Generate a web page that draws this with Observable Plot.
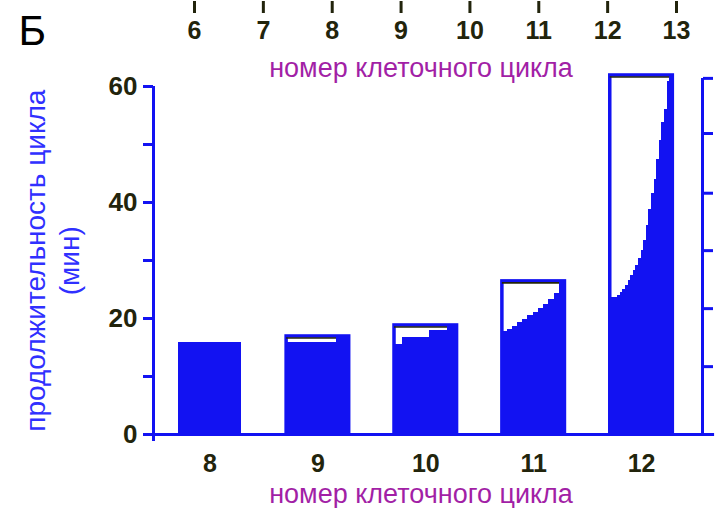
<!DOCTYPE html>
<html><head><meta charset="utf-8">
<script src="https://cdn.jsdelivr.net/npm/d3@7"></script>
<script src="https://cdn.jsdelivr.net/npm/@observablehq/plot@0.6"></script>
<style>
html,body{margin:0;padding:0;background:#fff;}
#wrap{position:relative;width:717px;height:508px;overflow:hidden;background:#fff;}
#wrap svg{position:absolute;left:0;top:0;}
</style></head><body>
<div id="wrap"></div>
<script>
// ---- data ----
const cycles = [8, 9, 10, 11, 12];
const maxDuration = [15.7, 16.9, 18.8, 26.4, 61.9];
const fill8 = [15.7];
const fill9 = [15.7, 15.7, 15.7, 15.7, 16.9];
const fill10 = [15.5, 16.6, 16.6, 16.6, 17.8, 17.8, 18.8];
const fill11 = [17.6, 18.0, 18.6, 19.2, 19.8, 20.4, 21.0, 21.7, 22.4, 23.2, 24.2, 26.4];
const fill12 = [23.6, 23.6, 23.6, 23.9, 24.4, 24.9, 25.6, 26.4, 27.3, 28.2, 29.1, 30.2, 31.7, 33.3, 36.0, 38.7, 41.5, 43.8, 47.4, 50.6, 53.7, 56.0, 60.7, 61.9];
const fills = [fill8, fill9, fill10, fill11, fill12];
const leftTicks = [0, 10, 20, 30, 40, 50, 60];
const leftLabels = [0, 20, 40, 60];
const rightTicks = [0, 11.7, 21.7, 31.7, 41.6, 51.9, 61.4];
const topTicks = [6, 7, 8, 9, 10, 11, 12, 13];
const xTitle = "номер клеточного цикла";
const yTitle = ["продолжительность цикла", "(мин)"];
const panelLetter = "Б";

// ---- styling / layout ----
const BLUE = "#1212f2";
const DARK = "#22240c";
const PURPLE = "#a21fa6";
const YBLUE = "#3030ff";
const FONT = "Liberation Sans, Arial, sans-serif";
const xDomain = [7.476, 12.565];
const baseX1 = 7.448, baseX2 = 12.677;
const halfW = 0.29;

const bars = cycles.map((c, i) => ({c, max: maxDuration[i], minFill: d3.min(fills[i])}));
const cells = [];
cycles.forEach((c, i) => {
  const arr = fills[i], n = arr.length;
  arr.forEach((v, j) => cells.push({
    x1: c - halfW + 2 * halfW * j / n,
    x2: c - halfW + 2 * halfW * (j + 1) / n,
    v
  }));
});

const mainChart = Plot.plot({
  width: 717, height: 508,
  marginLeft: 153, marginRight: 15, marginTop: 74.4, marginBottom: 74,
  x: {domain: xDomain},
  y: {domain: [0, 62]},
  style: {fontFamily: FONT, background: "transparent", overflow: "visible"},
  marks: [
    Plot.rect(bars.filter(d => d.max > d.minFill), {x1: d => d.c - halfW, x2: d => d.c + halfW, y1: 0, y2: "max", fill: "white", stroke: BLUE, strokeWidth: 3.5}),
    Plot.ruleY(bars.filter(d => d.max > d.minFill), {x1: d => d.c - halfW, x2: d => d.c + halfW, y: "max", stroke: DARK, strokeWidth: 1.6, dy: 1.5}),
    Plot.rect(cells, {x1: "x1", x2: "x2", y1: 0, y2: "v", fill: BLUE, stroke: BLUE, strokeWidth: 1, shapeRendering: "crispEdges"}),
    Plot.ruleX([xDomain[0]], {y1: -1.2, y2: 60, stroke: BLUE, strokeWidth: 3}),
    Plot.ruleX([xDomain[1]], {y1: 0, y2: rightTicks[rightTicks.length - 1], stroke: BLUE, strokeWidth: 3}),
    Plot.ruleY([0], {x1: baseX1, x2: baseX2, stroke: BLUE, strokeWidth: 3}),
    Plot.axisY({ticks: leftTicks, anchor: "left", tickSize: 10, tickPadding: 6, stroke: BLUE, strokeWidth: 3,
      fill: DARK, fontSize: 26, fontWeight: "bold", label: null,
      tickFormat: d => leftLabels.includes(d) ? String(d) : ""}),
    Plot.axisY({ticks: rightTicks, anchor: "right", tickSize: 10, stroke: BLUE, strokeWidth: 3, label: null, tickFormat: () => ""}),
    Plot.axisX({ticks: cycles, anchor: "bottom", tickSize: 0, tickPadding: 20, fill: DARK, fontSize: 25, fontWeight: "bold", label: null, tickFormat: d => String(d)}),
    Plot.text([xTitle], {frameAnchor: "bottom", lineAnchor: "middle", textAnchor: "middle", dx: -7, dy: 60, fontSize: 27, fill: PURPLE}),
    Plot.text([xTitle], {frameAnchor: "top", lineAnchor: "middle", textAnchor: "middle", dx: -7, dy: -6.4, fontSize: 27, fill: PURPLE}),
    Plot.text([yTitle.join("\n")], {frameAnchor: "left", rotate: -90, textAnchor: "middle", lineAnchor: "middle", dx: -102, dy: 6, fontSize: 28, lineHeight: 1.2, fill: YBLUE}),
    Plot.text([panelLetter], {frameAnchor: "top-left", dx: -135, dy: -60, textAnchor: "start", lineAnchor: "top", fontSize: 42, fill: "#000"})
  ]
});

const topAxisChart = Plot.plot({
  width: 717, height: 60,
  marginTop: 0, marginBottom: 59, marginLeft: 194, marginRight: 41,
  x: {domain: [6, 13]},
  style: {fontFamily: FONT, background: "transparent", overflow: "visible"},
  marks: [
    Plot.axisX({ticks: topTicks, anchor: "bottom", tickSize: 12, tickPadding: 8, stroke: DARK, strokeWidth: 3,
      fill: DARK, fontSize: 25, fontWeight: "bold", label: null, tickFormat: d => String(d)})
  ]
});

const wrap = document.getElementById("wrap");
wrap.appendChild(mainChart);
wrap.appendChild(topAxisChart);
</script>
</body></html>
